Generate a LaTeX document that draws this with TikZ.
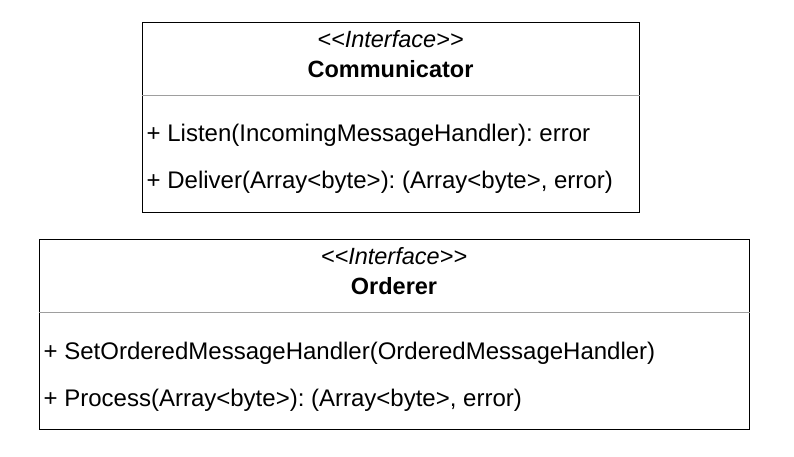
\documentclass[tikz,border=0pt]{standalone}
\usepackage{fontspec}
\setmainfont{Liberation Sans}
\frenchspacing
\begin{document}
\begin{tikzpicture}[x=1pt,y=-1pt,
  classbox/.style={draw=black,line width=1pt,fill=white,rectangle,inner sep=0pt,
    minimum height=190pt},
  divider/.style={draw=black!38,line width=1pt},
  stereo/.style={anchor=base,inner sep=0pt,font=\fontsize{23.5}{27}\selectfont\itshape},
  cname/.style={anchor=base,inner sep=0pt,font=\fontsize{23.5}{27}\selectfont\bfseries},
  member/.style={anchor=base west,inner sep=0pt,font=\fontsize{24}{28}\selectfont}]
\useasboundingbox (0,0) rectangle (794,456);

% Communicator interface
\node[classbox,minimum width=497pt] (comm) at (390.5,117) {};
\draw[divider] ([yshift=-74pt]comm.north west) -- ([yshift=-74pt]comm.north east);
\node[stereo] (commst) at ([yshift=-26.4pt]comm.north) {<{}<Interface>{}>};
\node[cname] (commname) at ([yshift=-56pt]comm.north) {Communicator};
\node[member] (listen) at ([xshift=5pt,yshift=-119.5pt]comm.north west) {+ Listen(IncomingMessageHandler): error};
\node[member] (deliver) at ([xshift=5pt,yshift=-166.8pt]comm.north west) {+ Deliver(Array<byte>): (Array<byte>, error)};

% Orderer interface
\node[classbox,minimum width=710pt] (ord) at (394,334) {};
\draw[divider] ([yshift=-74pt]ord.north west) -- ([yshift=-74pt]ord.north east);
\node[stereo] (ordst) at ([yshift=-26.4pt]ord.north) {<{}<Interface>{}>};
\node[cname] (ordname) at ([yshift=-56pt]ord.north) {Orderer};
\node[member] (setord) at ([xshift=5pt,yshift=-120.5pt]ord.north west) {+ SetOrderedMessageHandler(OrderedMessageHandler)};
\node[member] (process) at ([xshift=5pt,yshift=-167.8pt]ord.north west) {+ Process(Array<byte>): (Array<byte>, error)};
\end{tikzpicture}
\end{document}
